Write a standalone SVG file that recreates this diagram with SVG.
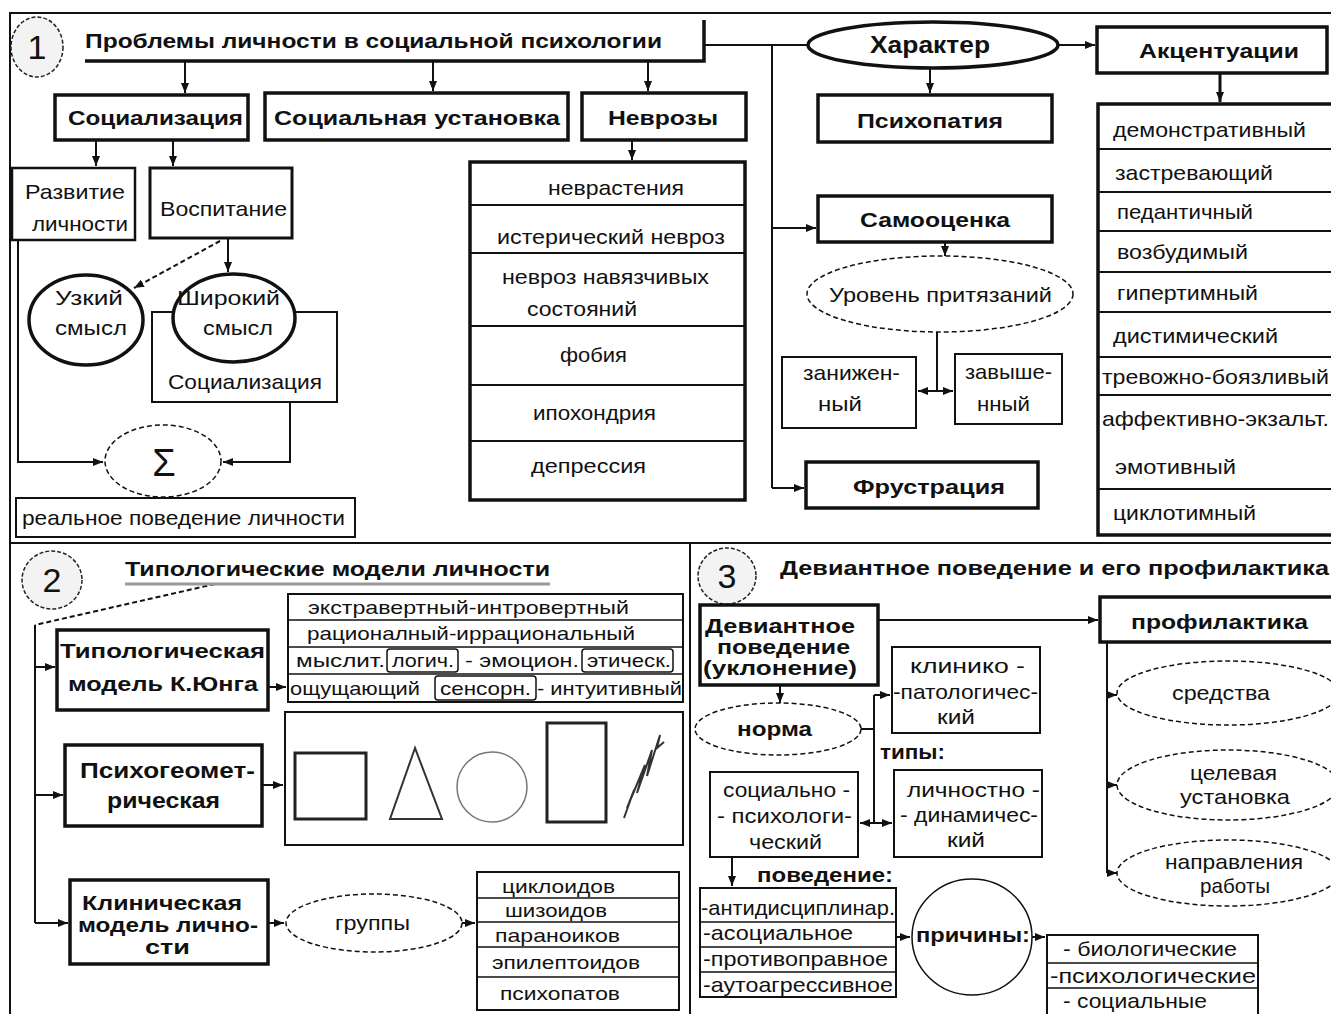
<svg xmlns="http://www.w3.org/2000/svg" width="1331" height="1014" viewBox="0 0 1331 1014">
<defs>
<marker id="ah" markerWidth="11" markerHeight="10" refX="10" refY="5" orient="auto-start-reverse" markerUnits="userSpaceOnUse"><path d="M0,1 L10,5 L0,9 z" fill="#111"/></marker>
</defs>
<style>
text{font-family:"Liberation Sans",Arial,sans-serif;font-size:21px;fill:#111}
.c{text-anchor:middle}
.b{font-weight:bold}
.s{font-size:19px}
.k{fill:#fff;stroke:#111;stroke-width:3.5}
.n{fill:#fff;stroke:#111;stroke-width:2}
.l{fill:none;stroke:#111;stroke-width:2}
.d{stroke-dasharray:5 3}
.a{marker-end:url(#ah)}
.a2{marker-start:url(#ah);marker-end:url(#ah)}
.sep{stroke:#111;stroke-width:2}
.num{fill:#f3f3f3;stroke:#222;stroke-width:1.5;stroke-dasharray:4 2}
</style>
<rect width="1331" height="1014" fill="#fff"/>
<g id="frame" class="l">
<path d="M10,1014 V13 H1331"/>
<path d="M10,543 H1331"/>
<path d="M690,543 V1014"/>
</g>

<g id="connectors" class="l">
<path class="a" d="M185,62 V93"/>
<path class="a" d="M433,62 V91"/>
<path class="a" d="M648,62 V91"/>
<path d="M704,45 H808"/>
<path d="M772,45 V488"/>
<path class="a" d="M772,228 H816"/>
<path class="a" d="M772,488 H804"/>
<path class="a" d="M1058,45 H1095"/>
<path class="a" d="M930,68 V93"/>
<path class="a" style="stroke-width:3" d="M1220,73 V102"/>
<path class="a" d="M945,242 V256"/>
<path d="M937,332 V391"/>
<path class="a2" d="M918,391 H953"/>
<path class="a" d="M96,140 V166"/>
<path class="a" d="M173,140 V166"/>
<path class="a" d="M228,238 V272"/>
<path class="a d" d="M220,241 L134,288"/>
<path class="a" d="M18,240 V462 H103"/>
<path class="a" d="M290,402 V462 H223"/>
<path class="a" d="M632,140 V160"/>
<path class="d" d="M215,584 L35,625"/>
<path d="M35,625 V923"/>
<path class="a" d="M35,667 H55"/>
<path class="a" d="M35,795 H63"/>
<path class="a" d="M35,923 H68"/>
<path class="a" d="M268,687 H286"/>
<path class="a" d="M262,785 H283"/>
<path class="a" d="M268,923 H284"/>
<path class="a" d="M462,923 H475"/>
<path class="a" d="M878,620 H1098"/>
<path d="M1107,642 V873"/>
<path class="a" d="M1107,695 H1117"/>
<path class="a" d="M1107,785 H1117"/>
<path class="a" d="M1107,873 H1117"/>
<path class="a" d="M780,685 V703"/>
<path d="M861,729 H874"/>
<path d="M874,695 V823"/>
<path class="a" d="M874,695 H890"/>
<path class="a2" d="M860,823 H892"/>
<path class="a" d="M732,857 V886"/>
<path class="a" d="M896,937 H910"/>
<path class="a" d="M1032,937 H1045"/>
</g>

<!-- Section 1 -->
<g id="n-num1"><ellipse class="num" cx="37" cy="47" rx="26" ry="30"/><text class="c" x="37" y="59" style="font-size:34px">1</text></g>
<g id="n-title1">
<path class="l" style="stroke-width:3.5" d="M85,61 H704 V20"/>
<text class="b" x="85" y="48" textLength="577" lengthAdjust="spacingAndGlyphs">Проблемы личности в социальной психологии</text>
</g>
<g id="n-socializ"><rect class="k" x="55" y="95" width="193" height="45"/><text class="b c" x="155.5" y="125" textLength="175" lengthAdjust="spacingAndGlyphs">Социализация</text></g>
<g id="n-ustanovka"><rect class="k" x="265" y="93" width="303" height="47"/><text class="b c" x="417" y="125" textLength="286" lengthAdjust="spacingAndGlyphs">Социальная установка</text></g>
<g id="n-nevrozy"><rect class="k" x="582" y="93" width="164" height="47"/><text class="b c" x="663" y="125" textLength="110" lengthAdjust="spacingAndGlyphs">Неврозы</text></g>
<g id="n-razvitie"><rect class="n" style="stroke-width:2.5" x="12" y="168" width="123" height="72"/>
<text class="c" x="75" y="199" textLength="100" lengthAdjust="spacingAndGlyphs">Развитие</text>
<text class="c" x="80" y="231" textLength="96" lengthAdjust="spacingAndGlyphs">личности</text></g>
<g id="n-vospitanie"><rect class="k" style="stroke-width:3" x="150" y="168" width="142" height="70"/><text class="c" x="223.5" y="216" textLength="127" lengthAdjust="spacingAndGlyphs">Воспитание</text></g>
<g id="n-socializ2"><rect class="n" x="152" y="312" width="185" height="90"/><text class="c" x="245" y="389" textLength="154" lengthAdjust="spacingAndGlyphs">Социализация</text></g>
<g id="n-uzkiy"><ellipse class="k" cx="86" cy="320" rx="57" ry="45"/>
<text class="c" x="89" y="305" textLength="68" lengthAdjust="spacingAndGlyphs">Узкий</text>
<text class="c" x="91" y="335" textLength="72" lengthAdjust="spacingAndGlyphs">смысл</text></g>
<g id="n-shirokiy"><ellipse class="k" cx="234" cy="318" rx="61" ry="44"/>
<text class="c" x="228.5" y="305" textLength="103" lengthAdjust="spacingAndGlyphs">Широкий</text>
<text class="c" x="238" y="335" textLength="70" lengthAdjust="spacingAndGlyphs">смысл</text></g>
<g id="n-sigma"><ellipse class="n d" style="stroke-width:1.5" cx="163" cy="461" rx="58" ry="36"/><text class="c" x="164" y="476" style="font-size:38px">Σ</text></g>
<g id="n-real"><rect class="n" x="16" y="498" width="339" height="39"/><text class="c" x="183.5" y="525" textLength="323" lengthAdjust="spacingAndGlyphs">реальное поведение личности</text></g>
<g id="n-nevrozy-list"><rect class="k" x="470" y="162" width="275" height="338"/>
<path class="sep" d="M470,205 H745 M470,253 H745 M470,326 H745 M470,385 H745 M470,441 H745"/>
<text class="c" x="616" y="195" textLength="136" lengthAdjust="spacingAndGlyphs">неврастения</text>
<text class="c" x="611" y="244" textLength="228" lengthAdjust="spacingAndGlyphs">истерический невроз</text>
<text class="c" x="605.5" y="284" textLength="207" lengthAdjust="spacingAndGlyphs">невроз навязчивых</text>
<text class="c" x="582" y="316" textLength="110" lengthAdjust="spacingAndGlyphs">состояний</text>
<text class="c" x="593.5" y="362" textLength="67" lengthAdjust="spacingAndGlyphs">фобия</text>
<text class="c" x="594.5" y="420" textLength="123" lengthAdjust="spacingAndGlyphs">ипохондрия</text>
<text class="c" x="588.5" y="473" textLength="115" lengthAdjust="spacingAndGlyphs">депрессия</text></g>
<g id="n-harakter"><ellipse class="k" cx="933" cy="45" rx="125" ry="23"/><text class="c" x="930" y="53" style="font-size:23px;font-weight:600" textLength="120" lengthAdjust="spacingAndGlyphs">Характер</text></g>
<g id="n-akcent"><rect class="k" x="1097" y="27" width="230" height="46"/><text class="b c" x="1219" y="58" textLength="160" lengthAdjust="spacingAndGlyphs">Акцентуации</text></g>
<g id="n-psihopatia"><rect class="k" x="818" y="95" width="234" height="47"/><text class="b c" x="930" y="128" textLength="146" lengthAdjust="spacingAndGlyphs">Психопатия</text></g>
<g id="n-samoocenka"><rect class="k" x="818" y="196" width="234" height="46"/><text class="b c" x="935" y="227" textLength="150" lengthAdjust="spacingAndGlyphs">Самооценка</text></g>
<g id="n-uroven"><ellipse class="n d" style="stroke-width:1.5" cx="940" cy="294" rx="133" ry="38"/><text class="c" x="940.5" y="302" textLength="223" lengthAdjust="spacingAndGlyphs">Уровень притязаний</text></g>
<g id="n-zanizh"><rect class="n" x="782" y="357" width="134" height="71"/>
<text class="c" x="851.5" y="380" textLength="97" lengthAdjust="spacingAndGlyphs">занижен-</text>
<text class="c" x="840" y="411" textLength="44" lengthAdjust="spacingAndGlyphs">ный</text></g>
<g id="n-zavysh"><rect class="n" x="955" y="354" width="107" height="70"/>
<text class="c" x="1008.5" y="379" textLength="87" lengthAdjust="spacingAndGlyphs">завыше-</text>
<text class="c" x="1003.5" y="411" textLength="53" lengthAdjust="spacingAndGlyphs">нный</text></g>
<g id="n-frustr"><rect class="k" x="806" y="462" width="232" height="46"/><text class="b c" x="929" y="494" textLength="152" lengthAdjust="spacingAndGlyphs">Фрустрация</text></g>
<g id="n-akcent-list"><rect class="k" x="1098" y="104" width="245" height="431"/>
<path class="sep" d="M1098,149 H1343 M1098,192 H1343 M1098,231 H1343 M1098,272 H1343 M1098,312 H1343 M1098,357 H1343 M1098,395 H1343 M1098,489 H1343"/>
<text x="1113" y="137" textLength="193" lengthAdjust="spacingAndGlyphs">демонстративный</text>
<text x="1115" y="180" textLength="158" lengthAdjust="spacingAndGlyphs">застревающий</text>
<text x="1117" y="219" textLength="136" lengthAdjust="spacingAndGlyphs">педантичный</text>
<text x="1117" y="259" textLength="131" lengthAdjust="spacingAndGlyphs">возбудимый</text>
<text x="1117" y="300" textLength="141" lengthAdjust="spacingAndGlyphs">гипертимный</text>
<text x="1113" y="343" textLength="165" lengthAdjust="spacingAndGlyphs">дистимический</text>
<text x="1102" y="384" textLength="227" lengthAdjust="spacingAndGlyphs">тревожно-боязливый</text>
<text x="1102" y="426" textLength="227" lengthAdjust="spacingAndGlyphs">аффективно-экзальт.</text>
<text x="1115" y="474" textLength="121" lengthAdjust="spacingAndGlyphs">эмотивный</text>
<text x="1113" y="520" textLength="143" lengthAdjust="spacingAndGlyphs">циклотимный</text></g>

<!-- Section 2 -->
<g id="n-num2"><ellipse class="num" cx="52" cy="580" rx="30" ry="29"/><text class="c" x="52" y="592" style="font-size:34px">2</text></g>
<g id="n-title2"><path d="M125,584 H550" stroke="#999" stroke-width="3"/><text class="b" x="125" y="576" textLength="425" lengthAdjust="spacingAndGlyphs">Типологические модели личности</text></g>
<g id="n-jung"><rect class="k" x="57" y="630" width="211" height="80"/>
<text class="b c" x="162.5" y="658" textLength="205" lengthAdjust="spacingAndGlyphs">Типологическая</text>
<text class="b c" x="163" y="691" textLength="190" lengthAdjust="spacingAndGlyphs">модель К.Юнга</text></g>
<g id="n-jung-list"><rect class="n" x="288" y="594" width="395" height="108"/>
<path class="sep" style="stroke-width:1.5" d="M288,620 H683 M288,647 H683 M288,674 H683"/>
<rect x="387" y="649" width="71" height="23" rx="3" fill="none" stroke="#111" stroke-width="1.5"/>
<rect x="582" y="649" width="91" height="23" rx="3" fill="none" stroke="#111" stroke-width="1.5"/>
<rect x="435" y="676" width="101" height="24" rx="3" fill="none" stroke="#111" stroke-width="1.5"/>
<text class="s c" x="468.5" y="614" textLength="321" lengthAdjust="spacingAndGlyphs">экстравертный-интровертный</text>
<text class="s c" x="471" y="640" textLength="328" lengthAdjust="spacingAndGlyphs">рационалный-иррациональный</text>
<text class="s" x="296" y="667" textLength="89" lengthAdjust="spacingAndGlyphs">мыслит.</text>
<text class="s" x="392" y="667" textLength="62" lengthAdjust="spacingAndGlyphs">логич.</text>
<text class="s" x="465" y="667" textLength="114" lengthAdjust="spacingAndGlyphs">- эмоцион.</text>
<text class="s" x="587" y="667" textLength="84" lengthAdjust="spacingAndGlyphs">этическ.</text>
<text class="s" x="290" y="695" textLength="130" lengthAdjust="spacingAndGlyphs">ощущающий</text>
<text class="s" x="440" y="695" textLength="91" lengthAdjust="spacingAndGlyphs">сенсорн.</text>
<text class="s" x="537" y="695" textLength="145" lengthAdjust="spacingAndGlyphs">- интуитивный</text></g>
<g id="n-psygeo"><rect class="k" x="65" y="745" width="197" height="81"/>
<text class="b c" x="167.5" y="778" style="font-size:22px" textLength="175" lengthAdjust="spacingAndGlyphs">Психогеомет-</text>
<text class="b c" x="163.5" y="808" style="font-size:22px" textLength="113" lengthAdjust="spacingAndGlyphs">рическая</text></g>
<g id="n-shapes"><rect class="n" x="285" y="712" width="398" height="133"/>
<rect x="295" y="753" width="71" height="66" fill="none" stroke="#222" stroke-width="3"/>
<polygon points="415,748 390,819 442,819" fill="none" stroke="#333" stroke-width="2"/>
<circle cx="492" cy="787" r="35" fill="none" stroke="#777" stroke-width="1.5"/>
<rect x="547" y="723" width="59" height="99" fill="none" stroke="#222" stroke-width="3"/>
<path d="M624,818 L634,790 L627,808 L645,765 L637,793 L652,750 L647,776 L660,735 L657,748 L664,742" fill="none" stroke="#333" stroke-width="2"/></g>
<g id="n-clinic"><rect class="k" x="70" y="880" width="198" height="84"/>
<text class="b c" x="162" y="910" style="font-size:20px" textLength="160" lengthAdjust="spacingAndGlyphs">Клиническая</text>
<text class="b c" x="168" y="932" style="font-size:20px" textLength="180" lengthAdjust="spacingAndGlyphs">модель лично-</text>
<text class="b c" x="167.5" y="954" style="font-size:20px" textLength="45" lengthAdjust="spacingAndGlyphs">сти</text></g>
<g id="n-gruppy"><ellipse class="n d" style="stroke-width:1.5" cx="374" cy="923" rx="88" ry="29"/><text class="c" x="372.5" y="930" textLength="75" lengthAdjust="spacingAndGlyphs">группы</text></g>
<g id="n-gruppy-list"><rect class="n" x="477" y="872" width="202" height="138"/>
<path class="sep" style="stroke-width:1.5" d="M477,898 H679 M477,922 H679 M477,947 H679 M477,977 H679"/>
<text class="s c" x="558.5" y="893" textLength="113" lengthAdjust="spacingAndGlyphs">циклоидов</text>
<text class="s c" x="556" y="917" textLength="102" lengthAdjust="spacingAndGlyphs">шизоидов</text>
<text class="s c" x="557.5" y="942" textLength="125" lengthAdjust="spacingAndGlyphs">параноиков</text>
<text class="s c" x="566" y="969" textLength="148" lengthAdjust="spacingAndGlyphs">эпилептоидов</text>
<text class="s c" x="560" y="1000" textLength="120" lengthAdjust="spacingAndGlyphs">психопатов</text></g>

<!-- Section 3 -->
<g id="n-num3"><ellipse class="num" cx="727" cy="576" rx="29" ry="28"/><text class="c" x="727" y="588" style="font-size:34px">3</text></g>
<g id="n-title3"><text class="b" x="780" y="575" textLength="549" lengthAdjust="spacingAndGlyphs">Девиантное поведение и его профилактика</text></g>
<g id="n-deviant"><rect class="k" x="700" y="605" width="178" height="80"/>
<text class="b c" x="780" y="633" textLength="150" lengthAdjust="spacingAndGlyphs">Девиантное</text>
<text class="b c" x="783.5" y="654" textLength="133" lengthAdjust="spacingAndGlyphs">поведение</text>
<text class="b c" x="780" y="675" textLength="154" lengthAdjust="spacingAndGlyphs">(уклонение)</text></g>
<g id="n-profil"><rect class="k" x="1100" y="597" width="245" height="45"/><text class="b c" x="1219.5" y="629" textLength="177" lengthAdjust="spacingAndGlyphs">профилактика</text></g>
<g id="n-norma"><ellipse class="n d" style="stroke-width:1.5" cx="778" cy="729" rx="83" ry="26"/><text class="b c" x="774.5" y="736" textLength="75" lengthAdjust="spacingAndGlyphs">норма</text></g>
<g id="n-klinik"><rect class="n" x="892" y="647" width="148" height="86"/>
<text class="c" x="967.5" y="673" textLength="115" lengthAdjust="spacingAndGlyphs">клинико -</text>
<text class="c" x="965.5" y="699" textLength="145" lengthAdjust="spacingAndGlyphs">-патологичес-</text>
<text class="c" x="956" y="724" textLength="38" lengthAdjust="spacingAndGlyphs">кий</text></g>
<g id="n-tipy"><text class="b" x="880" y="759" textLength="65" lengthAdjust="spacingAndGlyphs">типы:</text></g>
<g id="n-socpsy"><rect class="n" x="710" y="772" width="148" height="85"/>
<text class="c" x="786.5" y="797" textLength="127" lengthAdjust="spacingAndGlyphs">социально -</text>
<text class="c" x="784.5" y="823" textLength="135" lengthAdjust="spacingAndGlyphs">- психологи-</text>
<text class="c" x="785.5" y="849" textLength="73" lengthAdjust="spacingAndGlyphs">ческий</text></g>
<g id="n-lichdin"><rect class="n" x="894" y="770" width="148" height="87"/>
<text class="c" x="973.5" y="797" textLength="133" lengthAdjust="spacingAndGlyphs">личностно -</text>
<text class="c" x="969" y="822" textLength="138" lengthAdjust="spacingAndGlyphs">- динамичес-</text>
<text class="c" x="966" y="847" textLength="38" lengthAdjust="spacingAndGlyphs">кий</text></g>
<g id="n-povedenie"><text class="b" x="757" y="882" textLength="136" lengthAdjust="spacingAndGlyphs">поведение:</text></g>
<g id="n-povedenie-list"><rect class="n" x="700" y="888" width="196" height="109"/>
<path class="sep" style="stroke-width:1.5" d="M700,922 H896 M700,947 H896 M700,972 H896"/>
<text x="701" y="915" textLength="194" lengthAdjust="spacingAndGlyphs">-антидисциплинар.</text>
<text x="703" y="940" textLength="150" lengthAdjust="spacingAndGlyphs">-асоциальное</text>
<text x="703" y="966" textLength="185" lengthAdjust="spacingAndGlyphs">-противоправное</text>
<text x="703" y="992" textLength="190" lengthAdjust="spacingAndGlyphs">-аутоагрессивное</text></g>
<g id="n-prichiny"><ellipse class="n" style="stroke-width:1.5" cx="972" cy="937" rx="60" ry="58"/><text class="b c" x="973" y="942" textLength="114" lengthAdjust="spacingAndGlyphs">причины:</text></g>
<g id="n-prichiny-list"><rect class="n" x="1047" y="935" width="211" height="85"/>
<path class="sep" style="stroke-width:1.5" d="M1047,963 H1258 M1047,988 H1258"/>
<text x="1063" y="956" textLength="174" lengthAdjust="spacingAndGlyphs">- биологические</text>
<text x="1050" y="983" textLength="206" lengthAdjust="spacingAndGlyphs">-психологические</text>
<text x="1063" y="1008" textLength="144" lengthAdjust="spacingAndGlyphs">- социальные</text></g>
<g id="n-sredstva"><ellipse class="n d" style="stroke-width:1.5" cx="1228" cy="693" rx="111" ry="32"/><text class="c" x="1221" y="700" textLength="98" lengthAdjust="spacingAndGlyphs">средства</text></g>
<g id="n-celevaya"><ellipse class="n d" style="stroke-width:1.5" cx="1228" cy="785" rx="111" ry="35"/>
<text class="c" x="1233.5" y="780" textLength="87" lengthAdjust="spacingAndGlyphs">целевая</text>
<text class="c" x="1235" y="804" textLength="110" lengthAdjust="spacingAndGlyphs">установка</text></g>
<g id="n-napravl"><ellipse class="n d" style="stroke-width:1.5" cx="1228" cy="873" rx="111" ry="33"/>
<text class="c" x="1234" y="869" textLength="138" lengthAdjust="spacingAndGlyphs">направления</text>
<text class="c" x="1235" y="893" textLength="70" lengthAdjust="spacingAndGlyphs">работы</text></g>
</svg>
